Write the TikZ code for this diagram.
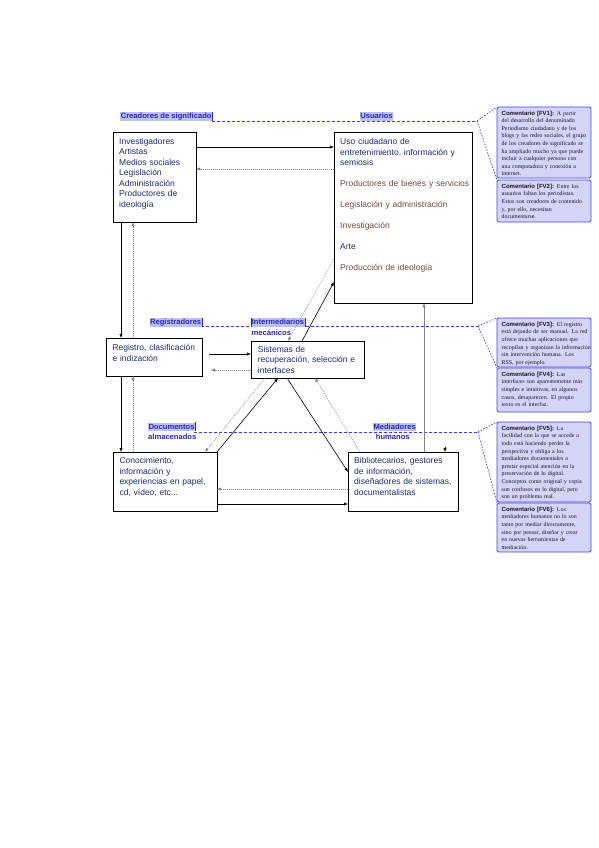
\documentclass[tikz,border=0pt]{standalone}
\usepackage{fontspec}
\setmainfont{Liberation Serif}
\setsansfont{Liberation Sans}
\usetikzlibrary{arrows.meta,calc}
\definecolor{navy}{HTML}{1E2A70}
\definecolor{brownish}{HTML}{6E4A3C}
\definecolor{lblblue}{HTML}{2828B0}
\definecolor{hilite}{HTML}{BCC0F4}
\definecolor{dashblue}{HTML}{3A3AF0}
\definecolor{cfill}{HTML}{D4D4F8}
\definecolor{cborder}{HTML}{4848E8}
\definecolor{ctextc}{HTML}{1C1424}
\definecolor{dotgray}{HTML}{808080}
\newcommand\cmthead[1]{{\sffamily\bfseries\fontsize{6}{7.6}\selectfont #1}}
\begin{document}
\begin{tikzpicture}[x=1pt,y=-1pt,
  mbox/.style={draw=black,line width=0.8pt,fill=white,inner sep=0pt,outer sep=0pt,anchor=north west},
  mtext/.style={anchor=base west,inner sep=0pt,text width=140pt,align=left,text=navy,
    font=\sffamily\fontsize{8.5}{10.5}\selectfont},
  lbl/.style={anchor=base west,fill=hilite,text=lblblue,inner xsep=0.6pt,inner ysep=0.6pt,
    text height=5.8pt,text depth=1.6pt,font=\sffamily\bfseries\fontsize{7.6}{9}\selectfont},
  lblplain/.style={anchor=base west,text=lblblue,inner sep=0pt,font=\sffamily\bfseries\fontsize{7.6}{9}\selectfont},
  bar/.style={draw=lblblue,line width=0.5pt},
  bluedash/.style={draw=dashblue,line width=0.85pt,dash pattern=on 3pt off 2pt},
  bluedot/.style={draw=dashblue,line width=0.7pt,dash pattern=on 1.5pt off 1.5pt},
  cbox/.style={draw=cborder,line width=0.9pt,fill=cfill,rounded corners=1.5pt,inner sep=0pt,outer sep=0pt,anchor=north west,minimum width=94pt},
  ctext/.style={anchor=base west,inner sep=0pt,text width=93pt,align=left,text=ctextc,
    font=\rmfamily\fontsize{5.9}{7.6}\selectfont},
  sarrow/.style={draw=black,line width=0.6pt,-{Latex[length=4pt,width=3.2pt]}},
  garrow/.style={draw=dotgray,line width=0.6pt,-{Latex[length=4pt,width=3.2pt]}},
  darrow/.style={draw=dotgray,line width=0.5pt,dash pattern=on 1pt off 1pt,-{Latex[length=4pt,width=3.2pt]}}
]
\useasboundingbox (0,0) rectangle (599,848);
\fill[white] (0,0) rectangle (599,848);

% ---- dashed group lines ----
\coordinate (k1) at (477,121);
\coordinate (k2) at (478,326);
\coordinate (k3) at (478,432);
\draw[bluedash] (212,121) -- (k1);
\draw[bluedash] (201,326) -- (k2);
\draw[bluedash] (194,432) -- (k3);

% ---- comment boxes ----
\node[cbox,minimum height=71pt] (fv1) at (497,107) {};
\node[cbox,minimum height=42pt] (fv2) at (497,180) {};
\node[cbox,minimum height=49pt] (fv3) at (497,318) {};
\node[cbox,minimum height=44pt] (fv4) at (497,368) {};
\node[cbox,minimum height=80pt] (fv5) at (497,422) {};
\node[cbox,minimum height=49pt] (fv6) at (497,503) {};
\draw[bluedot] (k1) -- (fv1.north west);
\draw[bluedot] (k1) -- (fv2.north west);
\draw[bluedot] (k2) -- (fv3.north west);
\draw[bluedot] (k2) -- (fv4.north west);
\draw[bluedot] (k3) -- (fv5.north west);
\draw[bluedot] (k3) -- (fv6.north west);

\node[ctext] (fv1t) at (501.5,115.2) {\cmthead{Comentario [FV1]:} A partir\\
del desarrollo del denominado\\
Periodismo ciudadano y de los\\
blogs y las redes sociales, el grupo\\
de los creadores de significado se\\
ha ampliado mucho ya que puede\\
incluir a cualquier persona con\\
una computadora y conexión a\\
internet.};
\node[ctext] (fv2t) at (501.5,188.2) {\cmthead{Comentario [FV2]:} Entre los\\
usuarios faltan los periodistas.\\
Estos son creadores de contenido\\
y, por ello, necesitan\\
documentarse.};
\node[ctext] (fv3t) at (501.5,326.2) {\cmthead{Comentario [FV3]:} El registro\\
está dejando de ser manual. La red\\
ofrece muchas aplicaciones que\\
recopilan y organizan la información\\
sin intervención humana. Los\\
RSS, por ejemplo.};
\node[ctext] (fv4t) at (501.5,376.2) {\cmthead{Comentario [FV4]:} Las\\
interfaces son aparentemente más\\
simples e intuitivas, en algunos\\
casos, desaparecen. El propio\\
texto es el interfaz.};
\node[ctext] (fv5t) at (501.5,430.2) {\cmthead{Comentario [FV5]:} La\\
facilidad con la que se accede a\\
todo está haciendo perder la\\
perspectiva y obliga a los\\
mediadores documentales a\\
prestar especial atención en la\\
preservación de lo digital.\\
Conceptos como original y copia\\
son confusos en lo digital, pero\\
son un problema real.};
\node[ctext] (fv6t) at (501.5,511.2) {\cmthead{Comentario [FV6]:} Los\\
mediadores humanos no lo son\\
tanto por mediar directamente,\\
sino por pensar, diseñar y crear\\
en nuevas herramientas de\\
mediación.};

% ---- group labels ----
\node[lbl] (cre) at (120,118.6) {Creadores de significado};
\draw[bar] (cre.north east) -- (cre.south east);
\node[lbl] (usu) at (359.5,118.6) {Usuarios};
\node[lbl] (reg) at (149.3,324.6) {Registradores};
\draw[bar] (reg.north east) -- (reg.south east);
\node[lbl] (inter) at (251,324.6) {Intermediarios};
\draw[bar] (inter.north east) -- (inter.south east);
\draw[bar] (inter.north west) -- (inter.south west);
\node[lblplain] (mec) at (251.5,335) {mecánicos};
\node[lbl] (doc) at (147.7,429) {Documentos};
\draw[bar] (doc.north east) -- (doc.south east);
\node[lblplain] (alm) at (148,439) {almacenados};
\node[lbl] (med) at (372.7,429) {Mediadores};
\node[lblplain] (hum) at (375.7,439) {humanos};

% ---- main boxes ----
\node[mbox,minimum width=83pt,minimum height=90pt] (A) at (113,132) {};
\node[mbox,minimum width=138pt,minimum height=171pt] (B) at (334,132) {};
\node[mbox,minimum width=96pt,minimum height=38pt] (C) at (106,338) {};
\node[mbox,minimum width=113pt,minimum height=37pt] (D) at (251,341) {};
\node[mbox,minimum width=104pt,minimum height=59pt] (E) at (113,452) {};
\node[mbox,minimum width=110pt,minimum height=59pt] (F) at (348,452) {};

\node[mtext] (At) at (119,144.1) {Investigadores\\Artistas\\Medios sociales\\Legislación\\Administración\\Productores de\\ideología};
\node[mtext] (Bt) at (340,144.5) {Uso ciudadano de\\entretenimiento, información y\\semiosis\\[10.4pt]
\textcolor{brownish}{Productores de bienes y servicios}\\[10.4pt]
\textcolor{brownish}{Legislación y administración}\\[10.4pt]
\textcolor{brownish}{Investigación}\\[10.4pt]
Arte\\[10.4pt]
\textcolor{brownish}{Producción de ideología}};
\node[mtext] (Ct) at (112.3,350.5) {Registro, clasificación\\e indización};
\node[mtext] (Dt) at (257.7,352.1) {Sistemas de\\recuperación, selección e\\interfaces};
\node[mtext] (Et) at (119.3,463.5) {Conocimiento,\\información y\\experiencias en papel,\\cd, vídeo, etc...};
\node[mtext] (Ft) at (354,463.5) {Bibliotecarios, gestores\\de información,\\diseñadores de sistemas,\\documentalistas};

% ---- connectors ----
\draw[sarrow] ($(A.north east)+(0,15)$) -- ($(B.north west)+(0,15)$);
\draw[darrow] ($(B.north west)+(0,37)$) -- ($(A.north east)+(0,37)$);
\draw[sarrow] ($(A.south west)+(8,0)$) -- ($(C.north west)+(15,0)$);
\draw[darrow] ($(C.north west)+(27,0)$) -- ($(A.south west)+(20,0)$);
\draw[sarrow] ($(C.south west)+(15,0)$) -- ($(E.north west)+(8,0)$);
\draw[darrow] ($(E.north west)+(20,0)$) -- ($(C.south west)+(27,0)$);
\draw[sarrow] ($(C.north east)+(7,16)$) -- ($(D.north west)+(0,13)$);
\draw[darrow] ($(D.north west)+(0,29)$) -- ($(C.north east)+(9,32)$);
\draw[sarrow] ($(D.north west)+(51,0)$) -- ($(B.north west)+(0,150)$);
\draw[darrow] ($(B.north west)+(0,127)$) -- ($(D.north west)+(37,0)$);
\draw[sarrow] (E.north east) -- ($(D.south west)+(27,0)$);
\draw[darrow] ($(D.south west)+(14,0)$) -- ($(E.north east)+(-12,0)$);
\draw[sarrow] ($(D.south west)+(36,0)$) -- ($(F.north west)+(0,20)$);
\draw[darrow] ($(F.north west)+(12,0)$) -- ($(D.south west)+(64,0)$);
\draw[darrow] ($(F.north west)+(0,37)$) -- ($(E.north east)+(0,37)$);
\draw[sarrow] ($(E.north east)+(0,52)$) -- ($(F.north west)+(0,52)$);
\draw[garrow] ($(F.north west)+(76,0)$) -- ($(B.south west)+(90,0)$);
\draw[sarrow] ($(F.north west)+(97,-5)$) -- ($(F.north west)+(97,0)$);
\end{tikzpicture}
\end{document}
